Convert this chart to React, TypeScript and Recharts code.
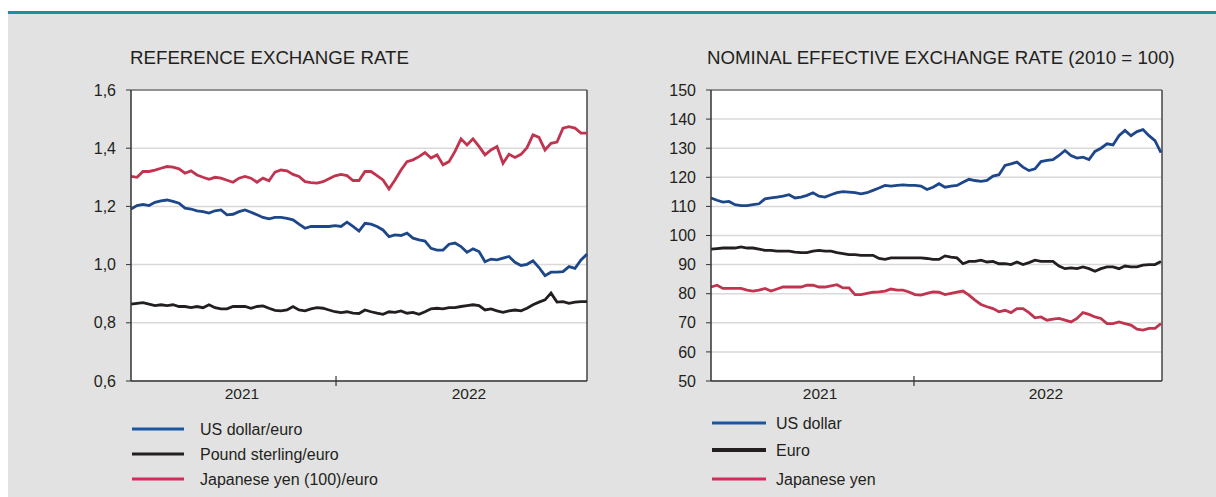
import React from 'react';
import { LineChart, Line, XAxis, YAxis, CartesianGrid, ReferenceLine } from 'recharts';

// ---------- Left chart: reference exchange rate ----------
const usdEuro = [
  1.191, 1.203, 1.207, 1.203, 1.214, 1.219, 1.222, 1.217, 1.211, 1.194, 1.191, 1.185, 1.182, 1.177, 1.185, 1.188, 1.171, 1.173, 1.182, 1.188,
  1.18, 1.171, 1.162, 1.157, 1.162, 1.162, 1.159, 1.154, 1.139, 1.125, 1.131, 1.131, 1.131, 1.131, 1.134, 1.131, 1.146, 1.131, 1.115,
  1.142, 1.139, 1.131, 1.119, 1.096, 1.102, 1.1, 1.108, 1.091, 1.085, 1.081, 1.056, 1.05, 1.05, 1.07, 1.074, 1.062, 1.042, 1.054, 1.045,
  1.01, 1.019, 1.016, 1.022, 1.028, 1.008, 0.997, 1.001, 1.013, 0.99, 0.962, 0.974, 0.974, 0.976, 0.993, 0.987, 1.016, 1.036,
];
const gbpEuro = [
  0.864, 0.867, 0.869, 0.864, 0.859, 0.862, 0.859, 0.862, 0.856, 0.856, 0.852, 0.856, 0.852, 0.862, 0.852, 0.848, 0.848, 0.856, 0.856, 0.856,
  0.85, 0.856, 0.858, 0.85, 0.843, 0.841, 0.844, 0.856, 0.844, 0.841, 0.848, 0.852, 0.85, 0.844, 0.838, 0.835, 0.838, 0.833, 0.832,
  0.844, 0.838, 0.833, 0.829, 0.838, 0.836, 0.841, 0.833, 0.836, 0.829, 0.838, 0.848, 0.85, 0.848, 0.852, 0.852, 0.856, 0.859, 0.862, 0.859,
  0.844, 0.848, 0.841, 0.836, 0.841, 0.844, 0.841, 0.85, 0.862, 0.871, 0.879, 0.902, 0.871, 0.873, 0.867, 0.871, 0.873, 0.873,
];
const jpyEuro = [
  1.303, 1.3, 1.32, 1.32, 1.325, 1.331, 1.337, 1.335, 1.329, 1.314, 1.322, 1.308, 1.3, 1.293, 1.3, 1.297, 1.29, 1.283, 1.297, 1.303,
  1.297, 1.283, 1.297, 1.288, 1.318, 1.325, 1.322, 1.31, 1.303, 1.285, 1.282, 1.28, 1.285, 1.295, 1.305, 1.31, 1.306, 1.289, 1.289,
  1.32, 1.32, 1.306, 1.291, 1.26, 1.291, 1.325, 1.354, 1.36, 1.371, 1.385, 1.366, 1.377, 1.343, 1.354, 1.389, 1.432, 1.411, 1.432, 1.406,
  1.377, 1.394, 1.406, 1.348, 1.379, 1.368, 1.379, 1.402, 1.446, 1.437, 1.394, 1.417, 1.421, 1.469, 1.474, 1.469, 1.452, 1.452,
];
const leftYTicks = [0.6, 0.8, 1.0, 1.2, 1.4, 1.6];
const leftXTicks = [18.5, 34.17, 56.33];
const leftXMax = 76;

// ---------- Right chart: nominal effective exchange rate ----------
const usdNeer = [
  112.9, 112.1, 111.5, 111.7, 110.6, 110.3, 110.3, 110.6, 110.9, 112.6, 112.9, 113.2, 113.5, 114.0, 112.9, 113.2, 113.8, 114.7, 113.5, 113.2,
  114.0, 114.7, 115.1, 114.9, 114.7, 114.3, 114.7, 115.5, 116.3, 117.2, 117.0, 117.2, 117.4, 117.2, 117.2, 117.0, 115.8, 116.6, 117.8,
  116.6, 117.0, 117.2, 118.3, 119.3, 118.9, 118.6, 118.9, 120.4, 120.9, 124.1, 124.6, 125.2, 123.5, 122.3, 122.9, 125.4, 125.8, 126.1, 127.5,
  129.2, 127.5, 126.6, 126.9, 126.1, 128.9, 130.0, 131.5, 131.1, 134.3, 136.1, 134.3, 135.7, 136.4, 134.3, 132.6, 128.5,
];
const eurNeer = [
  95.3, 95.5, 95.7, 95.7, 95.7, 96.1, 95.7, 95.7, 95.3, 94.9, 94.9, 94.6, 94.6, 94.6, 94.3, 94.1, 94.1, 94.6, 94.9, 94.6,
  94.6, 94.1, 93.8, 93.4, 93.4, 93.2, 93.2, 93.2, 92.1, 91.8, 92.3, 92.3, 92.3, 92.3, 92.3, 92.3, 92.1, 91.8, 91.8,
  93.0, 92.6, 92.3, 90.3, 91.1, 91.1, 91.5, 90.9, 91.1, 90.3, 90.3, 90.0, 90.9, 90.0, 90.7, 91.5, 91.1, 91.1, 91.1, 89.5,
  88.6, 88.9, 88.6, 89.2, 88.6, 87.7, 88.6, 89.2, 89.2, 88.6, 89.5, 89.2, 89.2, 89.8, 90.0, 90.0, 91.1,
];
const jpyNeer = [
  82.3, 82.9, 81.8, 81.8, 81.8, 81.8, 81.2, 80.9, 81.2, 81.8, 80.9, 81.6, 82.3, 82.3, 82.3, 82.3, 82.9, 82.9, 82.3, 82.3,
  82.7, 83.1, 82.0, 82.0, 79.7, 79.7, 80.1, 80.5, 80.6, 80.9, 81.6, 81.2, 81.2, 80.6, 79.7, 79.5, 80.1, 80.6, 80.5,
  79.7, 80.1, 80.5, 80.9, 79.5, 77.8, 76.3, 75.5, 74.9, 73.8, 74.3, 73.5, 74.9, 74.9, 73.5, 71.7, 72.0, 70.9, 71.3, 71.5,
  70.9, 70.3, 71.5, 73.5, 72.9, 72.0, 71.5, 69.7, 69.7, 70.3, 69.7, 69.2, 67.8, 67.5, 68.1, 68.1, 69.7,
];
const rightYTicks = [50, 60, 70, 80, 90, 100, 110, 120, 130, 140, 150];
const rightXTicks = [18.17, 33.83, 55.83];
const rightXMax = 75.17;

const xTickLabels = ['2021', '', '2022'];
const leftTitle = 'REFERENCE EXCHANGE RATE';
const rightTitle = 'NOMINAL EFFECTIVE EXCHANGE RATE (2010 = 100)';
const leftLegend = ['US dollar/euro', 'Pound sterling/euro', 'Japanese yen (100)/euro'];
const rightLegend = ['US dollar', 'Euro', 'Japanese yen'];

const leftData = usdEuro.map((v, i) => ({ i, usd: v, gbp: gbpEuro[i], jpy: jpyEuro[i] }));
const rightData = usdNeer.map((v, i) => ({ i, usd: v, eur: eurNeer[i], jpy: jpyNeer[i] }));

const FONT = '"Liberation Sans", Arial, sans-serif';
const TEXT = '#231f20';
const BLUE = '#1d4789';
const RED = '#c1344f';
const BLACK = '#231f20';
const LEG_BLUE = '#1a57a3';
const LEG_RED = '#d9285b';

const YearTick = (props: any) => {
  const { x, y, index } = props;
  const lbl = xTickLabels[index];
  if (!lbl) {
    return <line x1={x} x2={x} y1={y - 5} y2={y + 5} stroke="#333" strokeWidth={1.2} />;
  }
  return (
    <text x={x} y={y + 18} textAnchor="middle" fontSize={15.5} fontFamily={FONT} fill={TEXT}>
      {lbl}
    </text>
  );
};

const commaFmt = (v: number) => v.toFixed(1).replace('.', ',');

function Panel(props: {
  data: any[];
  keys: string[];
  colors: string[];
  yTicks: number[];
  xTicks: number[];
  xMax: number;
  fmt?: (v: number) => string;
  right: number;
}) {
  const { data, keys, colors, yTicks, xTicks, xMax, fmt, right } = props;
  const yMin = yTicks[0];
  const yMax = yTicks[yTicks.length - 1];
  return (
    <LineChart width={600} height={420} data={data} margin={{ top: 90, right, bottom: 9, left: 0 }}>
      <CartesianGrid vertical={false} fill="#ffffff" stroke="#d9d9d9" strokeWidth={1.5} />
      <XAxis
        type="number"
        dataKey="i"
        domain={[0, xMax]}
        ticks={xTicks}
        interval={0}
        tickLine={false}
        tickSize={0}
        tickMargin={0}
        height={30}
        axisLine={{ stroke: '#333', strokeWidth: 1.5 }}
        tick={<YearTick />}
      />
      <YAxis
        type="number"
        domain={[yMin, yMax]}
        ticks={yTicks}
        interval={0}
        width={131}
        tickSize={5}
        tickMargin={10}
        tickFormatter={fmt}
        axisLine={{ stroke: '#333', strokeWidth: 1.5 }}
        tickLine={{ stroke: '#333' }}
        tick={{ fontSize: 16, fontFamily: FONT, fill: TEXT }}
      />
      <ReferenceLine y={yMax} stroke="#777" strokeWidth={1.5} />
      <ReferenceLine x={xMax} stroke="#444" strokeWidth={1.5} />
      {keys.map((k, idx) => (
        <Line
          key={k}
          type="linear"
          dataKey={k}
          stroke={colors[idx]}
          strokeWidth={2.8}
          dot={false}
          isAnimationActive={false}
        />
      ))}
    </LineChart>
  );
}

export default function App() {
  return (
    <div style={{ position: 'absolute', left: 0, top: 0, width: 1216, height: 497, background: '#fff', overflow: 'hidden' }}>
      <div style={{ position: 'absolute', left: 8, top: 11, width: 1208, height: 3, background: '#11959e' }} />
      <div style={{ position: 'absolute', left: 8, top: 14, width: 1208, height: 483, background: '#e2e2e2' }} />
      <div style={{ position: 'absolute', left: 0, top: 0 }}>
        <Panel
          data={leftData}
          keys={['usd', 'gbp', 'jpy']}
          colors={[BLUE, BLACK, RED]}
          yTicks={leftYTicks}
          xTicks={leftXTicks}
          xMax={leftXMax}
          fmt={commaFmt}
          right={13}
        />
      </div>
      <div style={{ position: 'absolute', left: 580, top: 0 }}>
        <Panel
          data={rightData}
          keys={['usd', 'eur', 'jpy']}
          colors={[BLUE, BLACK, RED]}
          yTicks={rightYTicks}
          xTicks={rightXTicks}
          xMax={rightXMax}
          right={18}
        />
      </div>
      <svg width={1216} height={497} style={{ position: 'absolute', left: 0, top: 0, pointerEvents: 'none' }}>
        <text x={130} y={64} fontSize={18.7} fontFamily={FONT} fill={TEXT}>{leftTitle}</text>
        <text x={707} y={64} fontSize={18.7} fontFamily={FONT} fill={TEXT}>{rightTitle}</text>
        {leftLegend.map((t, k) => {
          const ys = [429, 454, 479];
          const cs = [LEG_BLUE, BLACK, LEG_RED];
          return (
            <g key={t}>
              <line x1={132} x2={184} y1={ys[k]} y2={ys[k]} stroke={cs[k]} strokeWidth={3} />
              <text x={200} y={ys[k] + 5.5} fontSize={16} fontFamily={FONT} fill={TEXT}>{t}</text>
            </g>
          );
        })}
        {rightLegend.map((t, k) => {
          const ys = [423, 450, 479];
          const cs = [LEG_BLUE, BLACK, LEG_RED];
          const ws = [3, 4, 3];
          return (
            <g key={t}>
              <line x1={712} x2={766} y1={ys[k]} y2={ys[k]} stroke={cs[k]} strokeWidth={ws[k]} />
              <text x={776} y={ys[k] + 5.5} fontSize={16} fontFamily={FONT} fill={TEXT}>{t}</text>
            </g>
          );
        })}
      </svg>
    </div>
  );
}
